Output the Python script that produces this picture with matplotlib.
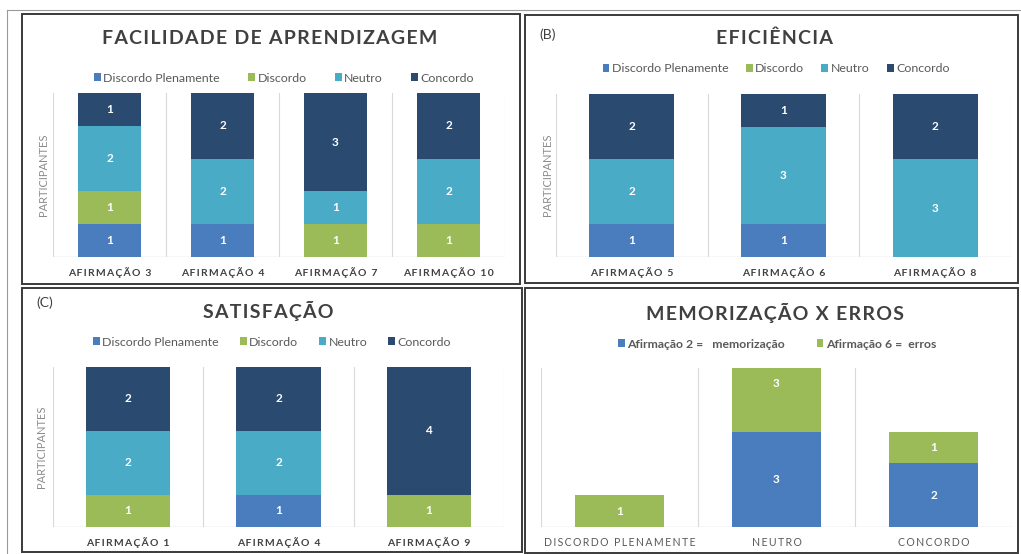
import matplotlib
matplotlib.use("Agg")
from matplotlib import pyplot as plt
from matplotlib.patches import Patch, Rectangle

W, H = 1021, 554

SERIES = ["Discordo Plenamente", "Discordo", "Neutro", "Concordo"]
COLORS = ["#4a7dbd", "#9bbb59", "#4aabc6", "#2b4a70"]

# (A) facilidade de aprendizagem
A_CATS = ["AFIRMAÇÃO 3", "AFIRMAÇÃO 4", "AFIRMAÇÃO 7", "AFIRMAÇÃO 10"]
A_DP = [1, 1, 0, 0]
A_D = [1, 0, 1, 1]
A_N = [2, 2, 1, 2]
A_C = [1, 2, 3, 2]

# (B) eficiência
B_CATS = ["AFIRMAÇÃO 5", "AFIRMAÇÃO 6", "AFIRMAÇÃO 8"]
B_DP = [1, 1, 0]
B_D = [0, 0, 0]
B_N = [2, 3, 3]
B_C = [2, 1, 2]

# (C) satisfação
C_CATS = ["AFIRMAÇÃO 1", "AFIRMAÇÃO 4", "AFIRMAÇÃO 9"]
C_DP = [0, 1, 0]
C_D = [1, 0, 1]
C_N = [2, 2, 0]
C_C = [2, 2, 4]

# memorização x erros
D_CATS = ["DISCORDO PLENAMENTE", "NEUTRO", "CONCORDO"]
D_SERIES = ["Afirmação 2 =   memorização", "Afirmação 6 =  erros"]
D_MEM = [0, 3, 2]
D_ERR = [1, 3, 1]

YMAX = 5
INK = "#404040"
LEG_INK = "#595959"
GRID = "#d9d9d9"
FONT = ["Lato", "DejaVu Sans"]


def spaced(s, sep="\u2009"):
    return sep.join(s)


def fx(x):
    return x / W


def fy(y):
    return 1 - y / H


def add_axes(fig, x0, y0, x1, y1):
    return fig.add_axes([fx(x0), fy(y1), fx(x1 - x0), (y1 - y0) / H])


def frame(fig, x0, y0, x1, y1, lw=1.4, color="#3a3a3a"):
    fig.add_artist(Rectangle((fx(x0), fy(y1)), fx(x1 - x0), (y1 - y0) / H,
                             transform=fig.transFigure, fill=False,
                             edgecolor=color, linewidth=lw))


def stacked(ax, cats, stacks, colors, width, bold_ticks=True):
    xs = range(len(cats))
    bottom = [0] * len(cats)
    for vals, color in zip(stacks, colors):
        ax.bar(xs, vals, width, bottom=bottom, color=color, zorder=3)
        for x, b, v in zip(xs, bottom, vals):
            if v:
                ax.text(x, b + v / 2, str(v), ha="center", va="center", color="white",
                        fontsize=8.5, fontweight="bold", family=FONT, zorder=4)
        bottom = [b + v for b, v in zip(bottom, vals)]
    n = len(cats)
    ax.set_xlim(-0.5, n - 0.5)
    ax.set_ylim(0, YMAX)
    for k in range(n + 1):
        ax.axvline(k - 0.5, color=GRID, linewidth=0.8, zorder=1)
    ax.axhline(0, color=GRID, linewidth=1.0, zorder=2)
    ax.set_xticks(list(xs))
    if bold_ticks:
        ax.set_xticklabels([spaced(c) for c in cats], fontsize=7.5, fontweight="bold",
                           color=INK, family=FONT)
    else:
        ax.set_xticklabels([spaced(c) for c in cats], fontsize=7.6,
                           color=LEG_INK, family=FONT)
    ax.tick_params(axis="x", length=0, pad=7)
    ax.set_yticks([])
    for s in ax.spines.values():
        s.set_visible(False)
    ax.patch.set_alpha(0)


def legend(fig, labels, colors, cx, cy, bold=False, spacing=2.3, size=8.9):
    handles = [Patch(facecolor=c, edgecolor="none") for c in colors]
    fig.legend(handles, labels, loc="center", bbox_to_anchor=(fx(cx), fy(cy)),
               ncol=len(labels), frameon=False, handlelength=0.55, handleheight=0.55,
               handletextpad=0.2, columnspacing=spacing,
               prop={"family": FONT, "size": size,
                     "weight": "bold" if bold else "normal"},
               labelcolor=LEG_INK)


def title(fig, text, cx, cy, size=14):
    fig.text(fx(cx), fy(cy), spaced(text, "\u200a"), ha="center", va="center",
             fontsize=size, fontweight="bold", color=INK, family=FONT)


def ylabel(fig, x, y):
    fig.text(fx(x), fy(y), "PARTICIPANTES", rotation=90, ha="center", va="center",
             fontsize=8, color="#8c8c8c", family=FONT)


fig = plt.figure(figsize=(W / 100, H / 100), dpi=100)
fig.patch.set_facecolor("white")

# outer light frame
fig.add_artist(plt.Line2D([fx(7), fx(1021)], [fy(10), fy(10)], transform=fig.transFigure,
                          color="#9a9a9a", linewidth=0.8))
fig.add_artist(plt.Line2D([fx(7), fx(7)], [fy(10), fy(554)], transform=fig.transFigure,
                          color="#9a9a9a", linewidth=0.8))

frame(fig, 22, 14, 520, 284)
frame(fig, 525, 15, 1018, 283)
frame(fig, 22, 288, 522, 552)
frame(fig, 525, 288, 1018, 553)

# A
ax = add_axes(fig, 53, 93, 505, 257)
stacked(ax, A_CATS, [A_DP, A_D, A_N, A_C], COLORS, 0.56)
title(fig, "FACILIDADE DE APRENDIZAGEM", 270, 38)
legend(fig, SERIES, COLORS, 284, 78)
ylabel(fig, 44, 175)

# B
ax = add_axes(fig, 556, 94, 1011, 257)
stacked(ax, B_CATS, [B_DP, B_D, B_N, B_C], COLORS, 0.56)
title(fig, "EFICIÊNCIA", 774, 38)
legend(fig, SERIES, COLORS, 776, 69, spacing=1.4)
ylabel(fig, 548, 175)
fig.text(fx(539), fy(35), "(B)", ha="left", va="center", fontsize=10, color=INK,
         family=FONT)

# C
ax = add_axes(fig, 53, 367, 504, 527)
stacked(ax, C_CATS, [C_DP, C_D, C_N, C_C], COLORS, 0.56)
title(fig, "SATISFAÇÃO", 268, 311)
legend(fig, SERIES, COLORS, 272, 342, spacing=1.7)
ylabel(fig, 41, 447)
fig.text(fx(36), fy(303), "(C)", ha="left", va="center", fontsize=10, color=INK,
         family=FONT)

# D
ax = add_axes(fig, 541, 368, 1012, 527)
stacked(ax, D_CATS, [D_MEM, D_ERR], COLORS[:2], 0.57, bold_ticks=False)
title(fig, "MEMORIZAÇÃO X ERROS", 775, 313)
legend(fig, D_SERIES, COLORS[:2], 777, 344, bold=True, spacing=2.6, size=8.8)

fig.savefig("out.png", dpi=100, facecolor="white")
